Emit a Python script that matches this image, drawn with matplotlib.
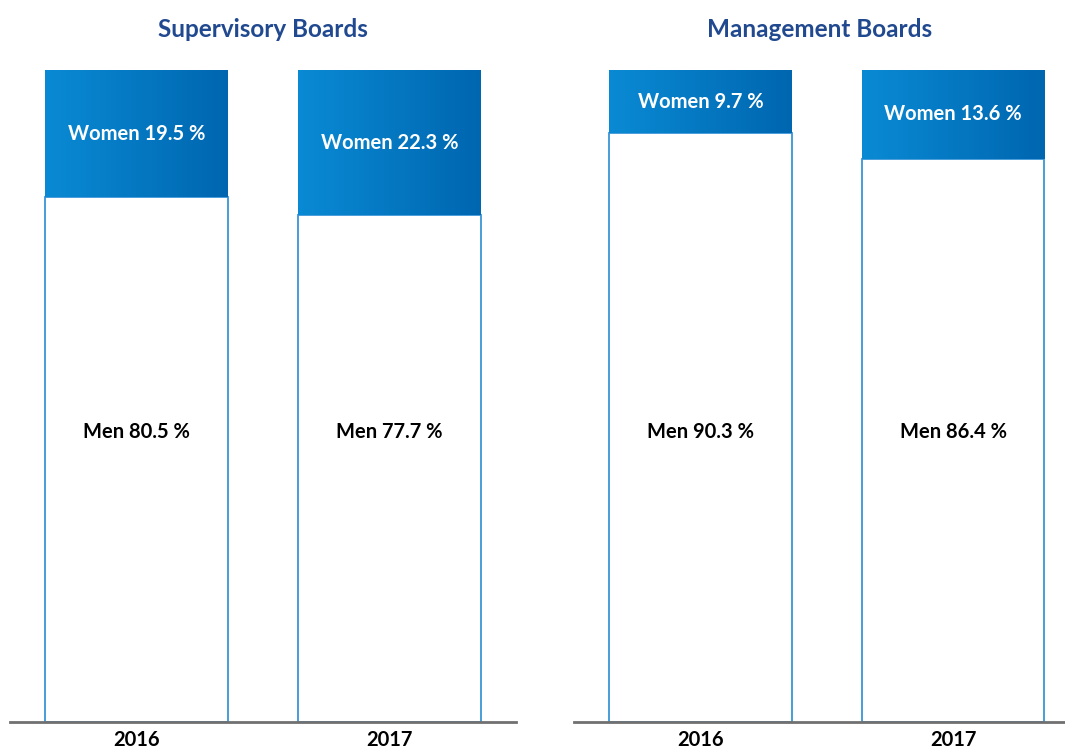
import numpy as np
import matplotlib.pyplot as plt
from matplotlib.colors import LinearSegmentedColormap

plt.rcParams['font.family'] = ['Lato', 'DejaVu Sans']

# Data
years = ['2016', '2017']
panels = ['Supervisory Boards', 'Management Boards']
women = {'Supervisory Boards': [19.5, 22.3], 'Management Boards': [9.7, 13.6]}
men = {'Supervisory Boards': [80.5, 77.7], 'Management Boards': [90.3, 86.4]}

# Colors
TITLE_BLUE = '#21498f'
EDGE_BLUE = '#3a95d8'
AXIS_GREY = '#707070'
grad = LinearSegmentedColormap.from_list('grad', ['#0a8ad4', '#0066b0'])

W, H = 1065, 751
fig = plt.figure(figsize=(W / 100, H / 100), dpi=100)

# axes rectangles in pixels: (left, right, xlim right)
boxes = [(10, 516, 1.5), (574, 1065, 1.443)]
top_px, bottom_px = 70, 722
bar_w = 0.723

for name, (l, r, xr) in zip(panels, boxes):
    ax = fig.add_axes([l / W, 1 - bottom_px / H, (r - l) / W, (bottom_px - top_px) / H])
    x = np.arange(len(years))
    m = men[name]
    w = women[name]

    ax.bar(x, m, width=bar_w, color='white', edgecolor=EDGE_BLUE, linewidth=1.3, zorder=2)
    # women segment with horizontal gradient
    for xi, mi, wi in zip(x, m, w):
        g = np.linspace(0, 1, 256).reshape(1, -1)
        ax.imshow(g, cmap=grad, aspect='auto', zorder=2,
                  extent=(xi - bar_w / 2, xi + bar_w / 2, mi, mi + wi))
        ax.text(xi, mi + wi / 2, f'Women {wi} %', ha='center', va='center',
                color='white', fontsize=14.5, fontweight='bold', zorder=3)
        ax.text(xi, 44.5, f'Men {mi} %', ha='center', va='center',
                color='black', fontsize=14.5, fontweight='bold', zorder=3)
    ax.set_xlim(-0.5, xr)
    ax.set_ylim(0, 100)

    for s in ['top', 'right', 'left']:
        ax.spines[s].set_visible(False)
    ax.spines['bottom'].set_color(AXIS_GREY)
    ax.spines['bottom'].set_linewidth(2)
    ax.spines['bottom'].set_zorder(4)
    ax.set_yticks([])
    ax.set_xticks(x)
    ax.set_xticklabels(years, fontsize=14.5, fontweight='bold')
    ax.tick_params(axis='x', length=0, pad=6)
    ax.set_title(name, color=TITLE_BLUE, fontsize=17.5, fontweight='bold', pad=24)

fig.savefig('out.png', dpi=100)
